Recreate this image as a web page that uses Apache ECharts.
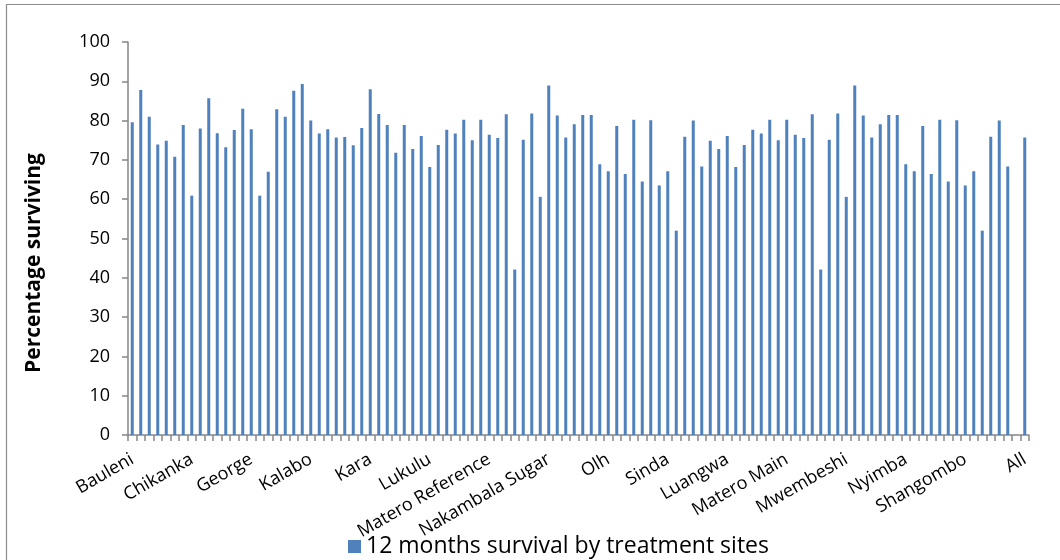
<!DOCTYPE html>
<html>
<head>
<meta charset="utf-8">
<title>12 months survival by treatment sites</title>
<script src="https://cdn.jsdelivr.net/npm/echarts@6/dist/echarts.min.js"></script>
<style>
  html, body { margin: 0; padding: 0; background: #ffffff; }
  #chart { width: 1060px; height: 560px; }
</style>
</head>
<body>
<div id="chart"></div>
<script>
// Site names shown on the category axis (one every seventh site)
const siteLabels = [
  'Bauleni', 'Chikanka', 'George', 'Kalabo', 'Kara', 'Lukulu',
  'Matero Reference', 'Nakambala Sugar', 'Olh', 'Sinda', 'Luangwa',
  'Matero Main', 'Mwembeshi', 'Nyimba', 'Shangombo', 'All'
];
const labelStep = 7;

// Percentage of patients surviving at 12 months, one value per treatment site
const survival = [
  79.6, 87.8, 81.0, 73.9, 74.9, 70.8, 78.9, 60.9, 78.0, 85.7, 76.8, 73.2,
  77.6, 83.0, 77.8, 60.9, 67.0, 82.9, 81.0, 87.6, 89.3, 80.0, 76.7, 77.8,
  75.7, 75.8, 73.7, 78.1, 88.0, 81.7, 78.9,
  71.8, 78.9, 72.8, 76.1, 68.2, 73.8, 77.7, 76.7, 80.2, 75.0, 80.2, 76.4,
  75.6, 81.6, 42.1, 75.1, 81.8, 60.6, 88.9,
  81.3, 75.7, 79.1, 81.4, 81.4, 68.9, 67.1, 78.6, 66.4, 80.2, 64.5, 80.1,
  63.5, 67.1, 52.0, 75.9, 80.0, 68.3, 74.9,
  72.8, 76.1, 68.2, 73.8, 77.7, 76.7, 80.2, 75.0, 80.2, 76.4, 75.6, 81.6,
  42.1, 75.1, 81.8, 60.6, 88.9, 81.3,
  75.7, 79.1, 81.4, 81.4, 68.9, 67.1, 78.6, 66.4, 80.2, 64.5, 80.1, 63.5,
  67.1, 52.0, 75.9, 80.0, 68.3,
  null, 75.7
];

// Y axis scale
const yMin = 0, yMax = 100, yStep = 10;

const seriesName = '12 months survival by treatment sites';
const axisTitle = 'Percentage surviving';

// One category per site; only every seventh one carries a name
const categories = survival.map((_, i) =>
  i % labelStep === 0 ? (siteLabels[i / labelStep] || '') : '');

const FONT = '"Open Sans", "Noto Sans", sans-serif';
const AXIS_GREY = '#868686';

const chart = echarts.init(document.getElementById('chart'), null, { renderer: 'canvas' });

chart.setOption({
  animation: false,
  backgroundColor: '#ffffff',
  textStyle: { fontFamily: FONT, color: '#000000' },
  grid: { left: 128, right: 31, top: 42, bottom: 125, containLabel: false },
  legend: {
    data: [seriesName],
    bottom: -3,
    left: 343,
    icon: 'rect',
    itemWidth: 13,
    itemHeight: 13,
    itemGap: 8,
    textStyle: { fontFamily: FONT, fontSize: 23, color: '#000000' }
  },
  xAxis: {
    type: 'category',
    data: categories,
    boundaryGap: true,
    axisLine: { show: true, lineStyle: { color: AXIS_GREY, width: 1.5 } },
    axisTick: { show: true, interval: 0, length: 6, inside: false,
                lineStyle: { color: AXIS_GREY, width: 1.5 } },
    axisLabel: {
      interval: labelStep - 1,
      rotate: 30,
      margin: 23,
      fontFamily: FONT,
      fontSize: 18,
      color: '#000000'
    },
    splitLine: { show: false }
  },
  yAxis: {
    type: 'value',
    min: yMin,
    max: yMax,
    interval: yStep,
    axisLine: { show: true, lineStyle: { color: AXIS_GREY, width: 1.5 } },
    axisTick: { show: true, length: 6, inside: false,
                lineStyle: { color: AXIS_GREY, width: 1.5 } },
    axisLabel: { margin: 18, fontFamily: FONT, fontSize: 18, color: '#000000' },
    splitLine: { show: false }
  },
  series: [{
    name: seriesName,
    type: 'bar',
    data: survival,
    barWidth: 3,
    itemStyle: { color: '#4F81BD' }
  }],
  graphic: [
    {
      type: 'rect',
      silent: true,
      shape: { x: 6.5, y: 4.5, width: 1100, height: 600 },
      style: { fill: 'none', stroke: '#8c8c8c', lineWidth: 1.2 }
    },
    {
      type: 'text',
      silent: true,
      x: 34,
      y: 263,
      rotation: Math.PI / 2,
      style: {
        text: axisTitle,
        fontFamily: FONT,
        fontSize: 21,
        fontWeight: 'bold',
        fill: '#000000',
        align: 'center',
        verticalAlign: 'middle'
      }
    }
  ]
});
</script>
</body>
</html>
